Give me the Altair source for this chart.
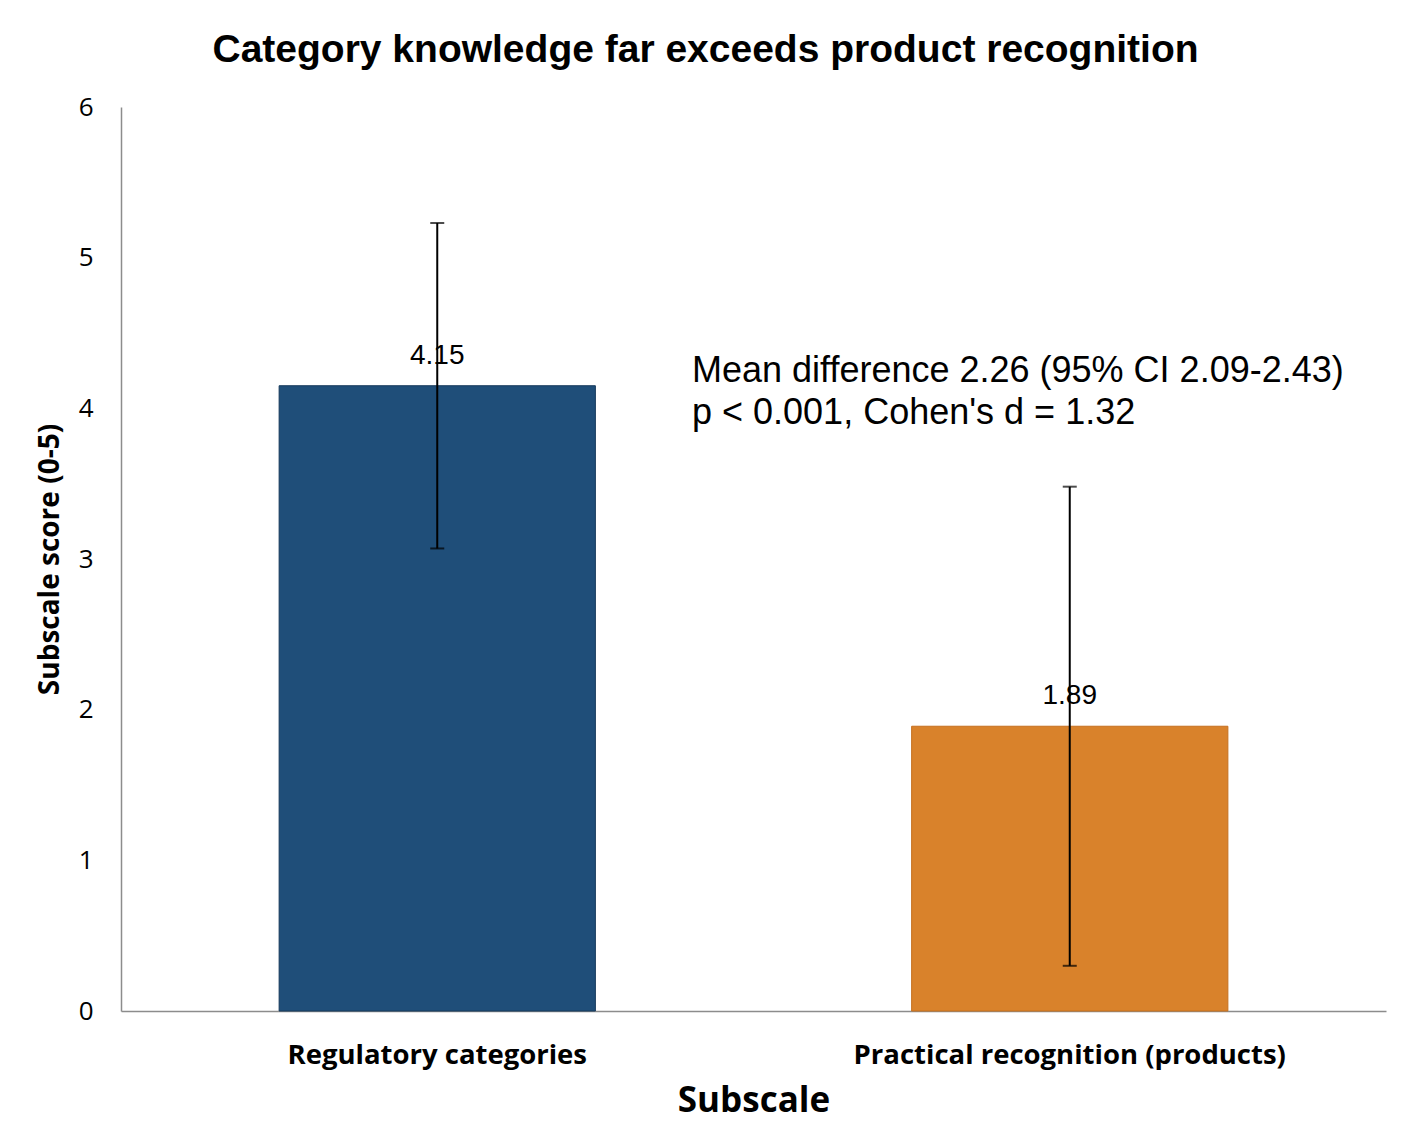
import altair as alt
import pandas as pd

categories = ["Regulatory categories", "Practical recognition (products)"]
means = [4.15, 1.89]
ci_low = [3.07, 0.30]
ci_high = [5.23, 3.48]
colors = ["#1F4E79", "#D9822B"]
strokes = ["#163a5c", "#c5701f"]
annotation_lines = ["Mean difference 2.26 (95% CI 2.09-2.43)", "p < 0.001, Cohen's d = 1.32"]
y_ticks = [0, 1, 2, 3, 4, 5, 6]

df = pd.DataFrame({
    "Subscale": categories,
    "mean": means,
    "lo": ci_low,
    "hi": ci_high,
    "label": [f"{m:.2f}" for m in means],
})

x_enc = alt.X(
    "Subscale:N",
    sort=categories,
    scale=alt.Scale(paddingInner=0.5, paddingOuter=0.25),
    axis=alt.Axis(
        title="Subscale",
        labelAngle=0,
        labelFont="Open Sans",
        labelFontWeight="bold",
        labelFontSize=27.5,
        labelColor="#000000",
        labelPadding=30,
        labelLimit=600,
        titleFont="Open Sans",
        titleFontWeight="bold",
        titleFontSize=35,
        titleColor="#000000",
        titlePadding=15,
        ticks=False,
        domainColor="#8c8c8c",
        domainWidth=1.5,
    ),
)

y_scale = alt.Scale(domain=[0, 6], nice=False, zero=True)

bars = alt.Chart(df).mark_bar(strokeWidth=1).encode(
    x=x_enc,
    y=alt.Y(
        "mean:Q",
        scale=y_scale,
        axis=alt.Axis(
            title="Subscale score (0-5)",
            values=y_ticks,
            format="d",
            grid=False,
            ticks=False,
            labelFont="Open Sans",
            labelFontSize=26,
            labelColor="#000000",
            labelPadding=28,
            titleFont="Open Sans",
            titleFontWeight="bold",
            titleFontSize=28,
            titleColor="#000000",
            titlePadding=14,
            domainColor="#8c8c8c",
            domainWidth=1.5,
        ),
    ),
    fill=alt.Fill("Subscale:N", scale=alt.Scale(domain=categories, range=colors), legend=None),
    stroke=alt.Stroke("Subscale:N", scale=alt.Scale(domain=categories, range=strokes), legend=None),
)

labels = alt.Chart(df).mark_text(
    font="Liberation Sans", fontSize=28, color="#000000", dy=-22, baseline="alphabetic"
).encode(
    x=alt.X("Subscale:N", sort=categories),
    y=alt.Y("mean:Q", scale=y_scale),
    text="label:N",
)

err = alt.Chart(df).mark_rule(color="#000000", strokeWidth=2).encode(
    x=alt.X("Subscale:N", sort=categories),
    y=alt.Y("lo:Q", scale=y_scale),
    y2="hi:Q",
)

cap_lo = alt.Chart(df).mark_tick(color="#000000", thickness=2, size=14).encode(
    x=alt.X("Subscale:N", sort=categories),
    y=alt.Y("lo:Q", scale=y_scale),
)
cap_hi = alt.Chart(df).mark_tick(color="#000000", thickness=2, size=14).encode(
    x=alt.X("Subscale:N", sort=categories),
    y=alt.Y("hi:Q", scale=y_scale),
)

annot = alt.Chart(pd.DataFrame({"t": [annotation_lines]})).mark_text(
    font="Liberation Sans",
    fontSize=36,
    color="#000000",
    align="left",
    baseline="alphabetic",
    lineHeight=42,
).encode(
    x=alt.value(571),
    y=alt.value(275),
    text="t",
)

chart = alt.layer(bars, labels, err, cap_lo, cap_hi, annot).properties(
    width=1265,
    height=904,
    background="#ffffff",
    title=alt.TitleParams(
        "Category knowledge far exceeds product recognition",
        font="Liberation Sans",
        fontSize=39,
        fontWeight="bold",
        color="#000000",
        anchor="middle",
        dx=-48,
        offset=24,
    ),
    autosize=alt.AutoSizeParams(type="none"),
    padding={"left": 113, "top": 99, "right": 23, "bottom": 113},
).configure_view(strokeWidth=0, stroke=None)

chart.save("out.html", embed_options={"renderer": "svg", "actions": False})
